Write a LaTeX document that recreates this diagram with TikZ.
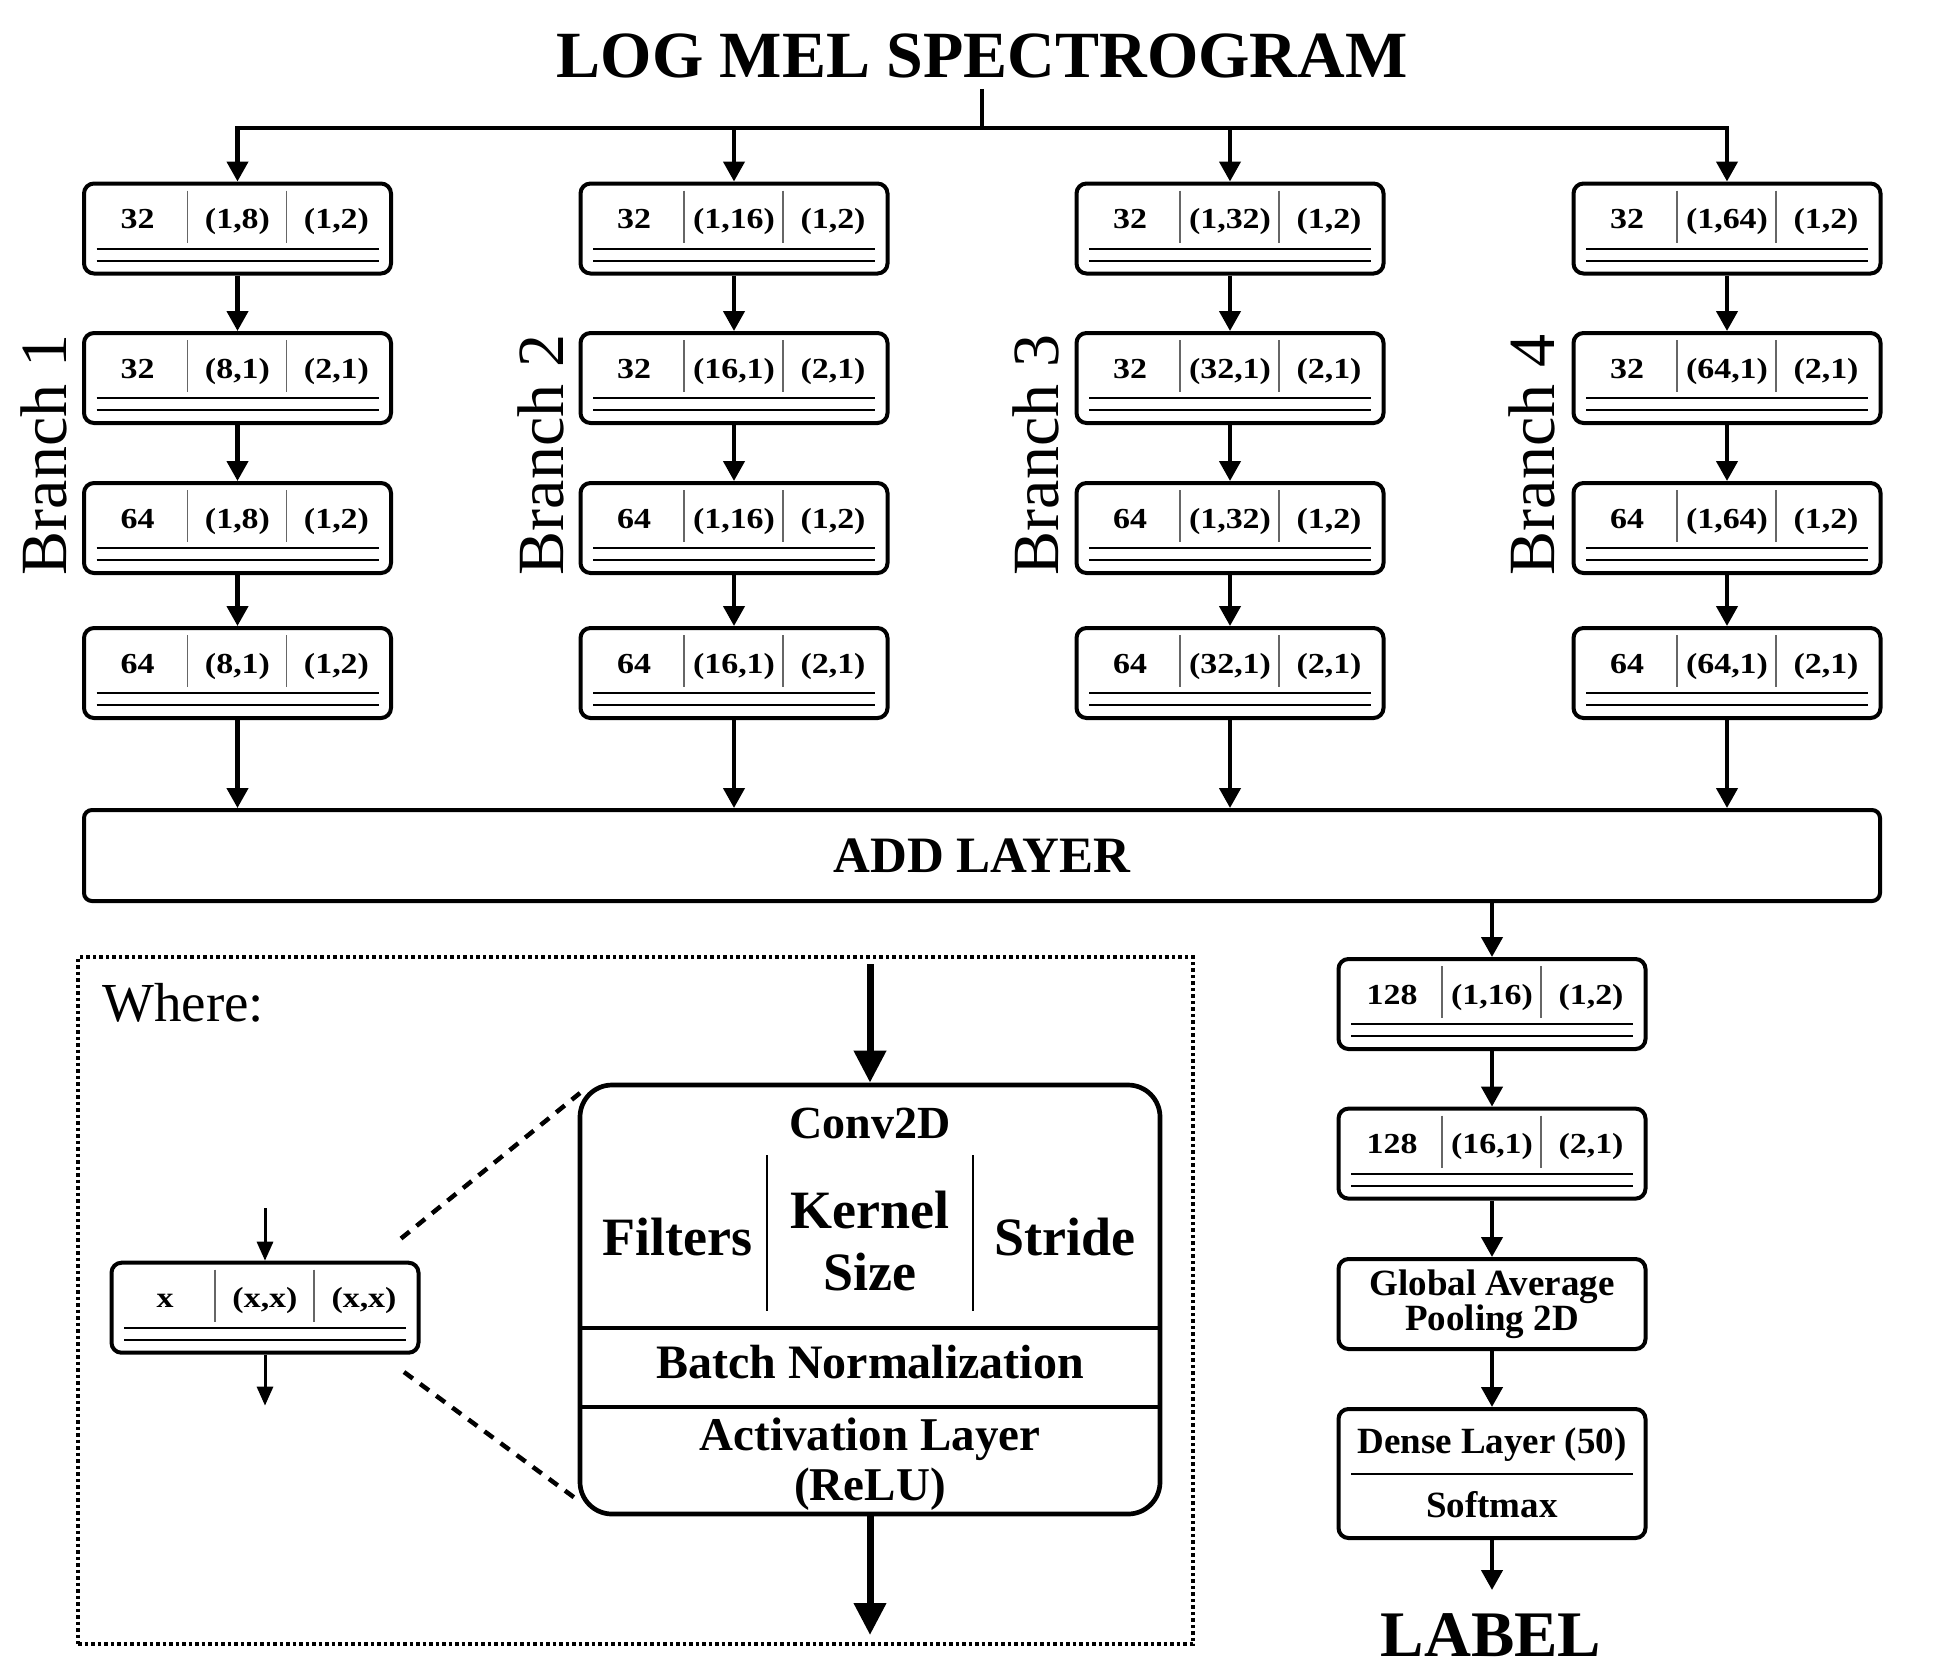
\documentclass[tikz,border=0pt]{standalone}
\usepackage{fontspec}
\setmainfont{Liberation Serif}
\newfontfamily\widefont[FakeStretch=1.17]{Liberation Serif}
\usetikzlibrary{arrows.meta,calc}
\tikzset{
  blk/.style={draw, line width=4pt, rounded corners=10pt, minimum width=307pt, minimum height=90pt, inner sep=0pt, fill=white},
  btxt/.style={anchor=base, inner sep=0pt, font=\widefont\bfseries\fontsize{29}{30}\selectfont},
  divl/.style={line width=1.5pt, black!60},
  dbl/.style={line width=2pt},
  plainline/.style={line width=4.3pt},
  arr/.style={line width=4.3pt, -{Triangle[width=21pt,length=20pt]}},
  sarr/.style={line width=3pt, -{Triangle[width=16pt,length=19pt]}},
  tarr/.style={line width=7pt, -{Triangle[width=31pt,length=32pt]}},
  dashln/.style={line width=4.5pt, dash pattern=on 11pt off 9pt},
  dotbox/.style={draw, line width=3.5pt, dash pattern=on 3.5pt off 3pt},
  ttl/.style={anchor=base, inner sep=0pt, font=\bfseries\fontsize{66}{70}\selectfont},
  brlab/.style={rotate=90, inner sep=0pt, font=\fontsize{66}{70}\selectfont},
  rtxt/.style={anchor=base, inner sep=0pt, font=\bfseries\fontsize{37}{34}\selectfont},
}
\newcommand\mkblock[6]{%
  \begin{scope}[shift={(#2,#3)}]
    \node[blk] (#1) at (0,0) {};
    \node[btxt] (#1f) at (-100,0) {#4};
    \node[btxt] (#1k) at (0,0) {#5};
    \node[btxt] (#1s) at (99,0) {#6};
    \draw[divl] (-50,-38) -- (-50,14);
    \draw[divl] (49,-38) -- (49,14);
    \draw[dbl] (-141,20) -- (141,20);
    \draw[dbl] (-141,32) -- (141,32);
  \end{scope}}
\begin{document}
\begin{tikzpicture}[x=1pt,y=-1pt]
\fill[white] (0,0) rectangle (1950,1674);
\useasboundingbox (0,0) rectangle (1950,1674);

% title
\node[ttl] (title) at (982,77.4) {LOG MEL SPECTROGRAM};
\coordinate (split) at (982,128);

% branches
\mkblock{ba}{237.5}{228.5}{32}{(1,8)}{(1,2)}
\mkblock{bb}{237.5}{378}{32}{(8,1)}{(2,1)}
\mkblock{bc}{237.5}{528}{64}{(1,8)}{(1,2)}
\mkblock{bd}{237.5}{673}{64}{(8,1)}{(1,2)}

\mkblock{ca}{734}{228.5}{32}{(1,16)}{(1,2)}
\mkblock{cb}{734}{378}{32}{(16,1)}{(2,1)}
\mkblock{cc}{734}{528}{64}{(1,16)}{(1,2)}
\mkblock{cd}{734}{673}{64}{(16,1)}{(2,1)}

\mkblock{da}{1230}{228.5}{32}{(1,32)}{(1,2)}
\mkblock{db}{1230}{378}{32}{(32,1)}{(2,1)}
\mkblock{dc}{1230}{528}{64}{(1,32)}{(1,2)}
\mkblock{dd}{1230}{673}{64}{(32,1)}{(2,1)}

\mkblock{ea}{1727}{228.5}{32}{(1,64)}{(1,2)}
\mkblock{eb}{1727}{378}{32}{(64,1)}{(2,1)}
\mkblock{ec}{1727}{528}{64}{(1,64)}{(1,2)}
\mkblock{ed}{1727}{673}{64}{(64,1)}{(2,1)}

\node[brlab] (lab1) at (44,455) {Branch 1};
\node[brlab] (lab2) at (541,455) {Branch 2};
\node[brlab] (lab3) at (1036,455) {Branch 3};
\node[brlab] (lab4) at (1532,455) {Branch 4};

% add layer
\node[draw, line width=4pt, rounded corners=8pt, minimum width=1796pt, minimum height=91pt, inner sep=0pt,
      font=\bfseries\fontsize{51}{55}\selectfont] (add) at (982,855.5) {ADD LAYER};

% top connectors
\draw[plainline] ([yshift=-10.6pt]title.south) -- (split);
\draw[arr] (split) -| (ba);
\draw[arr] (split) -| (ea);
\draw[arr] (ca |- split) -- (ca);
\draw[arr] (da |- split) -- (da);

\foreach \c in {b,c,d,e}{
  \draw[arr] (\c a) -- (\c b);
  \draw[arr] (\c b) -- (\c c);
  \draw[arr] (\c c) -- (\c d);
  \draw[arr] (\c d) -- (\c d |- add.north);
}

% right column
\mkblock{ra}{1492}{1004}{128}{(1,16)}{(1,2)}
\mkblock{rb}{1492}{1153.6}{128}{(16,1)}{(2,1)}
\node[blk, align=center, font=\bfseries\fontsize{37}{33.4}\selectfont] (gap) at (1492,1304) {Global Average\\Pooling 2D};
\node[blk, minimum height=129pt] (dense) at (1492,1473.5) {};
\node[rtxt] (densea) at (1492,1453.3) {Dense Layer (50)};
\node[rtxt] (denseb) at (1492,1517) {Softmax};
\draw[dbl] (1351,1474) -- (1633,1474);
\node[ttl, font=\bfseries\fontsize{65}{70}\selectfont] (label) at (1491,1656.5) {LABEL};
\coordinate (labtip) at (1492,1590);

\draw[arr] (add.south -| ra) -- (ra);
\draw[arr] (ra) -- (rb);
\draw[arr] (rb) -- (gap);
\draw[arr] (gap) -- (dense);
\draw[arr] (dense) -- (labtip);

% legend
\node[dotbox, minimum width=1115pt, minimum height=687pt, inner sep=0pt] (legend) at (635.5,1300.5) {};
\node[anchor=base west, inner sep=0pt, font=\fontsize{55}{60}\selectfont] (where) at (102,1021) {Where:};

\mkblock{lx}{265}{1307.7}{x}{(x,x)}{(x,x)}
\coordinate (lxin) at (265,1208);
\coordinate (lxout) at (265,1405.6);
\draw[sarr] (lxin) -- (lx);
\draw[sarr] (lx) -- (lxout);

\node[draw, line width=4.7pt, rounded corners=32pt, minimum width=580pt, minimum height=429pt, inner sep=0pt] (conv) at (870,1299.5) {};
\draw[line width=4.5pt] (580,1328) -- (1160,1328);
\draw[line width=4.5pt] (580,1407) -- (1160,1407);
\draw[line width=2.5pt] (767,1155) -- (767,1311);
\draw[line width=2.5pt] (973,1155) -- (973,1311);
\node[anchor=base, inner sep=0pt, font=\bfseries\fontsize{46}{50}\selectfont] (convt) at (870,1138) {Conv2D};
\node[anchor=base, inner sep=0pt, font=\bfseries\fontsize{54}{58}\selectfont] (filt) at (677,1255) {Filters};
\node[anchor=base, inner sep=0pt, font=\bfseries\fontsize{54}{58}\selectfont] (kern) at (870,1228) {Kernel};
\node[anchor=base, inner sep=0pt, font=\bfseries\fontsize{54}{58}\selectfont] (ksize) at (870,1290) {Size};
\node[anchor=base, inner sep=0pt, font=\bfseries\fontsize{54}{58}\selectfont] (strd) at (1065,1255) {Stride};
\node[anchor=base, inner sep=0pt, font=\bfseries\fontsize{48}{52}\selectfont] (bnorm) at (870,1378) {Batch Normalization};
\node[anchor=base, inner sep=0pt, font=\bfseries\fontsize{47}{50}\selectfont] (act) at (870,1450) {Activation Layer};
\node[anchor=base, inner sep=0pt, font=\bfseries\fontsize{47}{50}\selectfont] (relu) at (870,1500) {(ReLU)};

\coordinate (cin) at (870,964);
\coordinate (cout) at (870,1635);
\draw[tarr] (cin) -- (conv);
\draw[tarr] (conv) -- (cout);

\coordinate (d1a) at (401,1238.5);
\coordinate (d1b) at (580,1093);
\coordinate (d2a) at (404,1372);
\coordinate (d2b) at (580,1501.7);
\draw[dashln] (d1a) -- (d1b);
\draw[dashln] (d2a) -- (d2b);
\end{tikzpicture}
\end{document}
